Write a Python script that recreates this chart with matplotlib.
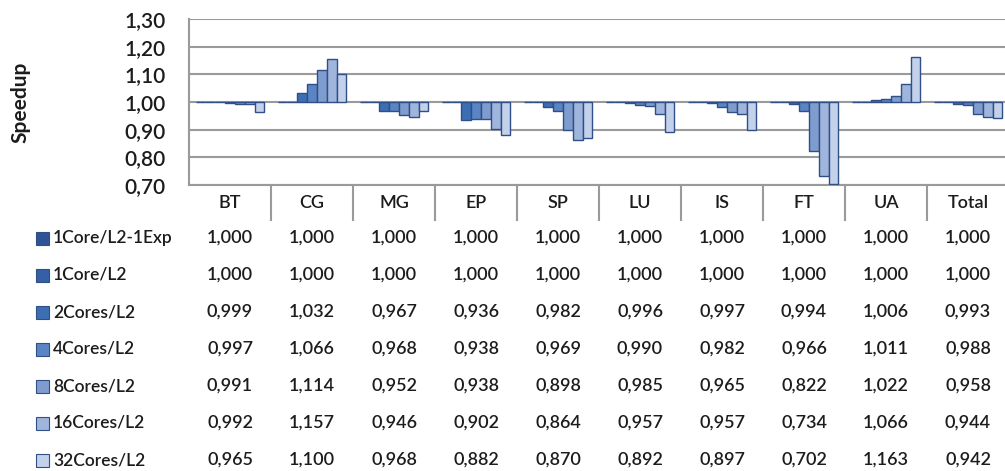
import matplotlib
matplotlib.use('Agg')
import matplotlib.pyplot as plt
from matplotlib.patches import Rectangle
from matplotlib.lines import Line2D
from matplotlib.transforms import blended_transform_factory
import numpy as np

categories = ['BT', 'CG', 'MG', 'EP', 'SP', 'LU', 'IS', 'FT', 'UA', 'Total']
series_names = ['1Core/L2-1Exp', '1Core/L2', '2Cores/L2', '4Cores/L2',
                '8Cores/L2', '16Cores/L2', '32Cores/L2']
core1_exp = [1.000, 1.000, 1.000, 1.000, 1.000, 1.000, 1.000, 1.000, 1.000, 1.000]
core1 = [1.000, 1.000, 1.000, 1.000, 1.000, 1.000, 1.000, 1.000, 1.000, 1.000]
cores2 = [0.999, 1.032, 0.967, 0.936, 0.982, 0.996, 0.997, 0.994, 1.006, 0.993]
cores4 = [0.997, 1.066, 0.968, 0.938, 0.969, 0.990, 0.982, 0.966, 1.011, 0.988]
cores8 = [0.991, 1.114, 0.952, 0.938, 0.898, 0.985, 0.965, 0.822, 1.022, 0.958]
cores16 = [0.992, 1.157, 0.946, 0.902, 0.864, 0.957, 0.957, 0.734, 1.066, 0.944]
cores32 = [0.965, 1.100, 0.968, 0.882, 0.870, 0.892, 0.897, 0.702, 1.163, 0.942]
series = [core1_exp, core1, cores2, cores4, cores8, cores16, cores32]

colors = ['#2F5496', '#3461A6', '#3C6EB4', '#5A84C3',
          '#7F9CCF', '#A0B5DC', '#C4D1EB']
edge = '#2F4F86'
txt = '#1c1c1c'
plt.rcParams['font.family'] = ['Lato', 'DejaVu Sans']
fw = 'semibold'

W, H = 1005, 471
fig = plt.figure(figsize=(W / 100, H / 100), dpi=100)
ax = fig.add_axes([189 / W, 1 - 185 / H, 820 / W, 166 / H])

n = len(series)
bw = 0.12
x = np.arange(len(categories))
for i, (vals, c) in enumerate(zip(series, colors)):
    off = (i - (n - 1) / 2) * bw
    h = np.array(vals) - 1.0
    ax.bar(x + off, h, bw, bottom=1.0, color=c, edgecolor=edge, linewidth=1.0, zorder=3)

ax.set_xlim(-0.5, len(categories) - 0.5)
ax.set_ylim(0.70, 1.30)
yt = np.arange(0.70, 1.301, 0.10)
ax.set_yticks(yt)
ax.set_yticklabels([f'{v:.2f}'.replace('.', ',') for v in yt], fontsize=15,
                   color=txt, fontweight=fw)
ax.tick_params(axis='y', length=0, pad=17)
ax.set_xticks([])
ax.grid(axis='y', color='#9a9a9a', linewidth=1.5, zorder=0)
for s in ['top', 'right']:
    ax.spines[s].set_visible(False)
for s in ['left', 'bottom']:
    ax.spines[s].set_color('#9a9a9a')
    ax.spines[s].set_linewidth(1.5)

fig.text(20 / W, 1 - 102 / H, 'Speedup', rotation=90, ha='center', va='center',
         fontsize=15, fontweight='bold', color=txt)

# data table under the chart
tr = blended_transform_factory(ax.transData, fig.transFigure)
for j, cat in enumerate(categories):
    fig.text(j, 1 - 203 / H, cat, transform=tr, ha='center', va='center',
             fontsize=13, color=txt, fontweight=fw)
for j in range(len(categories) - 1):
    fig.add_artist(Line2D([j + 0.5, j + 0.5], [1 - 185 / H, 1 - 220 / H],
                          transform=tr, color='#9a9a9a', linewidth=1.5))

for i, (name, vals, c) in enumerate(zip(series_names, series, colors)):
    yp = 1 - (238 + 37 * i) / H
    fig.add_artist(Rectangle((36 / W, yp - 6.5 / H), 13 / W, 13 / H,
                             transform=fig.transFigure, facecolor=c,
                             edgecolor=edge, linewidth=0.8))
    fig.text(53 / W, yp, name, ha='left', va='center', fontsize=12.5,
             color=txt, fontweight=fw)
    for j, v in enumerate(vals):
        fig.text(j, yp, f'{v:.3f}'.replace('.', ','), transform=tr,
                 ha='center', va='center', fontsize=13, color=txt, fontweight=fw)

fig.savefig('out.png', dpi=100)
